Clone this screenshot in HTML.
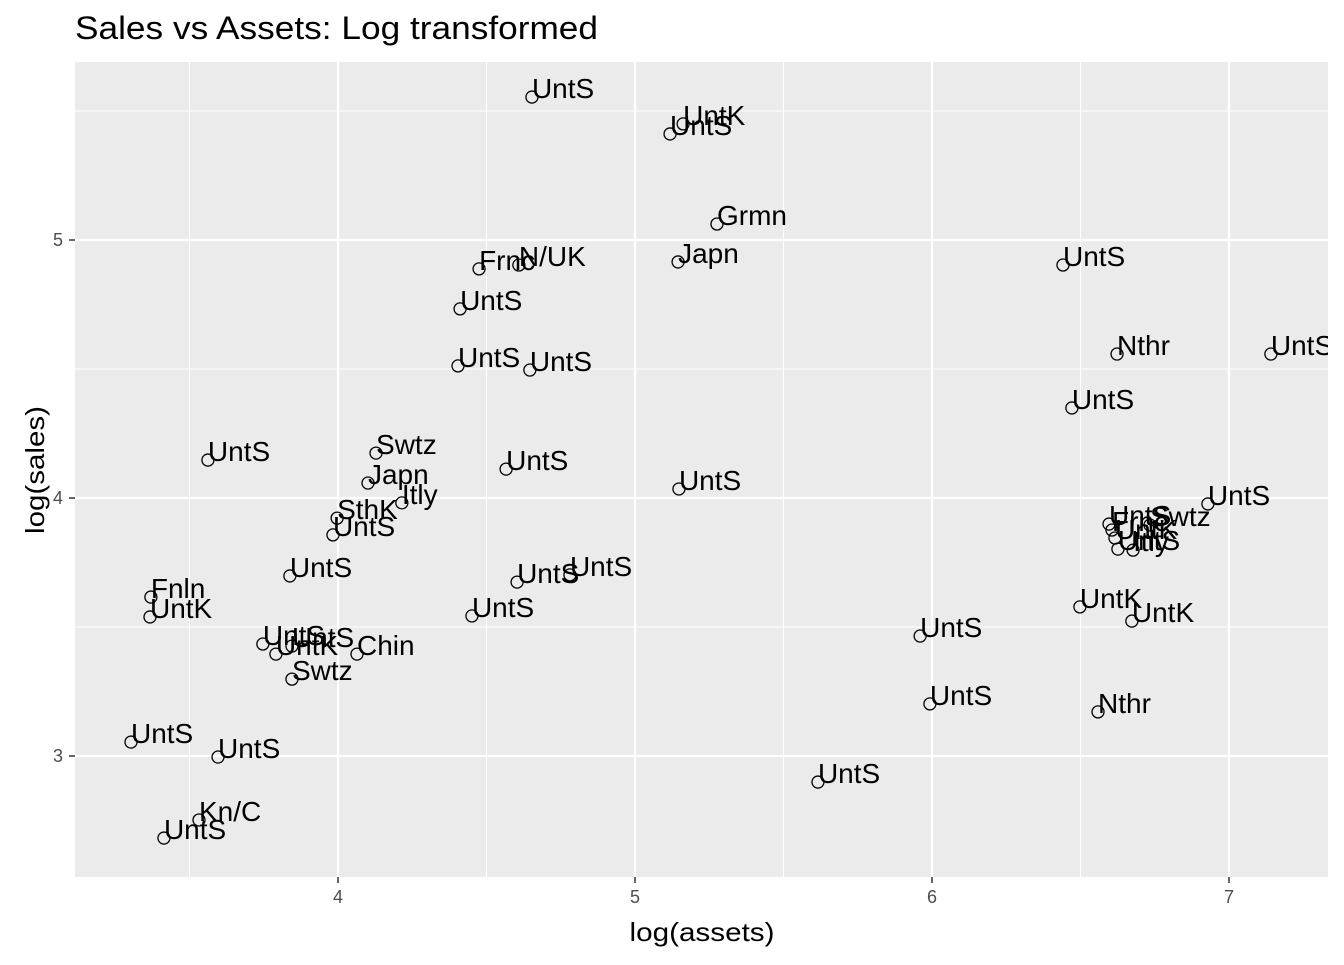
<!DOCTYPE html>
<html><head><meta charset="utf-8"><style>
body{margin:0;background:#fff;}
svg text{font-family:"Liberation Sans",Arial,sans-serif;}
</style></head><body>
<svg id="chart" width="1344" height="960" xmlns="http://www.w3.org/2000/svg">
<text x="75" y="39" font-size="32" textLength="523" lengthAdjust="spacingAndGlyphs" fill="#000">Sales vs Assets: Log transformed</text>
<rect x="75" y="62" width="1253" height="815" fill="#ebebeb"/>
<g id="grid"></g>
<g id="axes"></g>
<g id="points"></g>
<text x="702" y="941" font-size="26" textLength="145" lengthAdjust="spacingAndGlyphs" text-anchor="middle" fill="#000">log(assets)</text>
<text transform="translate(44,470) rotate(-90)" font-size="26" textLength="128" lengthAdjust="spacingAndGlyphs" text-anchor="middle" fill="#000">log(sales)</text>
</svg>
<script>
const xTicks=[4,5,6,7];
const yTicks=[3,4,5];
const labels=["UntS","UntK","UntS","Grmn","Japn","Frnc","N/UK","UntS","UntS","UntS","UntS","UntS","UntS","Nthr","UntS","UntS","UntS","UntS","Swtz","Frnc","UntK","UntS","Itly","UntK","UntK","UntS","UntS","Nthr","UntS","UntS","Swtz","Japn","Itly","SthK","UntS","UntS","Fnln","UntK","UntS","UntK","UntS","Chin","Swtz","UntS","UntS","UntS","UntS","UntS","Kn/C","UntS"];
const assets=[4.653,5.162,5.118,5.276,5.145,4.475,4.609,4.411,4.404,4.646,4.566,5.148,6.441,6.623,7.141,6.471,6.929,6.596,6.734,6.606,6.616,6.626,6.677,6.498,6.673,5.960,5.993,6.559,5.616,3.562,4.128,4.101,4.215,3.997,3.983,3.838,3.370,3.367,3.747,3.791,3.845,4.064,3.845,4.451,4.603,4.781,3.303,3.596,3.532,3.414];
const sales=[5.554,5.450,5.411,5.062,4.915,4.888,4.903,4.733,4.512,4.496,4.112,4.035,4.903,4.558,4.558,4.349,3.977,3.899,3.895,3.876,3.845,3.802,3.798,3.578,3.523,3.465,3.202,3.171,2.899,4.147,4.174,4.058,3.981,3.922,3.857,3.698,3.616,3.539,3.434,3.395,3.426,3.395,3.298,3.543,3.674,3.702,3.054,2.996,2.752,2.682];
const X=v=>338+(v-4)*297;
const Y=v=>498-(v-4)*258;
const NS="http://www.w3.org/2000/svg";
function mk(tag,attrs,parent){const e=document.createElementNS(NS,tag);for(const k in attrs)e.setAttribute(k,attrs[k]);parent.appendChild(e);return e;}
const grid=document.getElementById('grid'),axes=document.getElementById('axes'),pts=document.getElementById('points');
[3.5,4.5,5.5,6.5].forEach(v=>{const l=mk('line',{x1:X(v),x2:X(v),y1:62,y2:877,stroke:'#fff','stroke-width':1},grid);

});
[2.5,3.5,4.5,5.5].forEach(v=>{if(Y(v)<62||Y(v)>877)return;const l=mk('line',{x1:75,x2:1328,y1:Y(v),y2:Y(v),stroke:'#fff','stroke-width':1},grid);

});
xTicks.forEach(v=>{const l=mk('line',{x1:X(v),x2:X(v),y1:62,y2:877,stroke:'#fff','stroke-width':2.2},grid);


const t=mk('line',{x1:X(v),x2:X(v),y1:877,y2:883,stroke:'#333','stroke-width':1.5},axes);


const tx=mk('text',{x:X(v),y:903,'font-size':18,'text-anchor':'middle',fill:'#4d4d4d'},axes);tx.textContent=v;

});
yTicks.forEach(v=>{const l=mk('line',{x1:75,x2:1328,y1:Y(v),y2:Y(v),stroke:'#fff','stroke-width':2.2},grid);


const t=mk('line',{x1:69,x2:75,y1:Y(v),y2:Y(v),stroke:'#333','stroke-width':1.5},axes);


const tx=mk('text',{x:63,y:Y(v)+6,'font-size':18,'text-anchor':'end',fill:'#4d4d4d'},axes);tx.textContent=v;

});
const clip=mk('clipPath',{id:'pc'},document.getElementById('chart'));mk('rect',{x:75,y:62,width:1253,height:815},clip);
pts.setAttribute('clip-path','url(#pc)');
labels.forEach((lab,i)=>{const cx=X(assets[i]),cy=Y(sales[i]);
const c=mk('circle',{cx:cx,cy:cy,r:6,fill:'none',stroke:'#000','stroke-width':1.3},pts);


const t=mk('text',{x:cx,y:cy+1,'font-size':28,fill:'#000'},pts);t.textContent=lab;

});
</script>
</body></html>
